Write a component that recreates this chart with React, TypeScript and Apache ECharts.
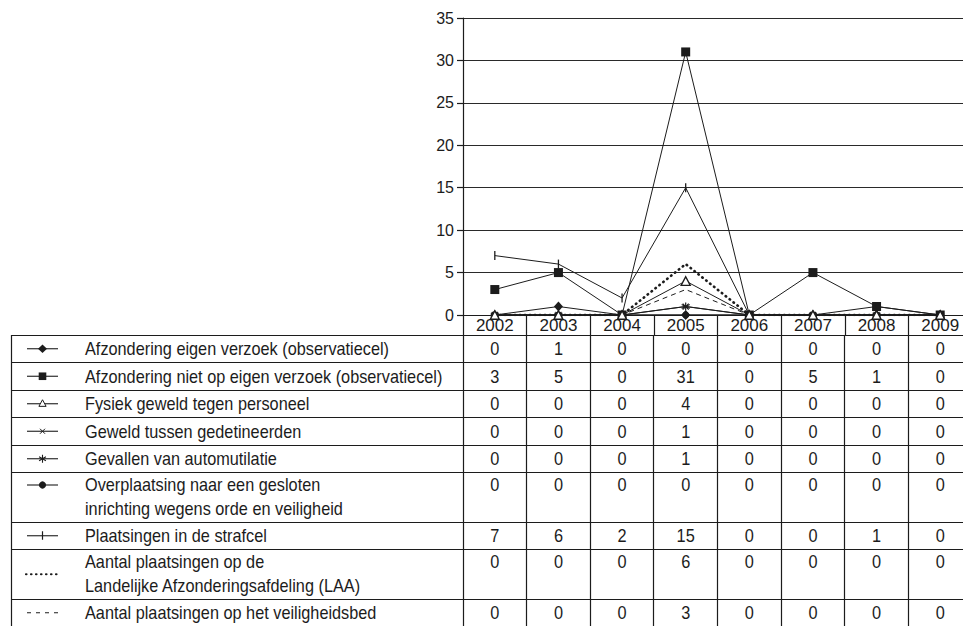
import React, { useEffect, useRef } from "react";
import * as echarts from "echarts";

// ---------- data ----------
const years = ["2002", "2003", "2004", "2005", "2006", "2007", "2008", "2009"];

const afzonderingEigen = [0, 1, 0, 0, 0, 0, 0, 0];
const afzonderingNiet = [3, 5, 0, 31, 0, 5, 1, 0];
const fysiekGeweld = [0, 0, 0, 4, 0, 0, 0, 0];
const geweldGedetineerden = [0, 0, 0, 1, 0, 0, 0, 0];
const automutilatie = [0, 0, 0, 1, 0, 0, 0, 0];
const overplaatsing = [0, 0, 0, 0, 0, 0, 0, 0];
const strafcel = [7, 6, 2, 15, 0, 0, 1, 0];
const laa = [0, 0, 0, 6, 0, 0, 0, 0];
const veiligheidsbed = [0, 0, 0, 3, 0, 0, 0, 0];

const seriesLabels: string[][] = [
  ["Afzondering eigen verzoek (observatiecel)"],
  ["Afzondering niet op eigen verzoek (observatiecel)"],
  ["Fysiek geweld tegen personeel"],
  ["Geweld tussen gedetineerden"],
  ["Gevallen van automutilatie"],
  ["Overplaatsing naar een gesloten", "inrichting wegens orde en veiligheid"],
  ["Plaatsingen in de strafcel"],
  ["Aantal plaatsingen op de", "Landelijke Afzonderingsafdeling (LAA)"],
  ["Aantal plaatsingen op het veiligheidsbed"],
];

const seriesValues = [
  afzonderingEigen,
  afzonderingNiet,
  fysiekGeweld,
  geweldGedetineerden,
  automutilatie,
  overplaatsing,
  strafcel,
  laa,
  veiligheidsbed,
];

type Mark =
  | "diamond"
  | "square"
  | "triangle"
  | "cross"
  | "asterisk"
  | "circle"
  | "tick"
  | "dotted"
  | "dashed";

const seriesMarks: Mark[] = [
  "diamond",
  "square",
  "triangle",
  "cross",
  "asterisk",
  "circle",
  "tick",
  "dotted",
  "dashed",
];

const Y_MAX = 35;
const Y_INTERVAL = 5;

// ---------- styles / layout ----------
const INK = "#1c1c1c";
const FONT = "'Liberation Sans', Arial, sans-serif";
const CROSS = "path://M0,0L10,10M10,0L0,10";
const ASTERISK = "path://M5,0L5,10M0.67,2.5L9.33,7.5M9.33,2.5L0.67,7.5";
const TICK = "path://M0,0h1v10h-1z";

const TABLE_LEFT = 11;
const TABLE_TOP = 335;
const ROW_H1 = 27.5;
const ROW_H2 = 49.5;
const LABEL_X = 85;
const SYM_X0 = 27;
const SYM_X1 = 58;
const SYM_CX = 42.5;
const TEXT_SIZE = 19;
const LABEL_SCALE = 0.857;
const NUM_SCALE = 0.86;
const RULE_W = 1.2;
const symbolAtMiddle = [false, false, false, false, false, false, false, true, false];

function seriesStyle(m: Mark): any {
  switch (m) {
    case "diamond":
      return { symbol: "diamond", symbolSize: [9, 10], itemStyle: { color: INK, borderWidth: 0 } };
    case "square":
      return { symbol: "rect", symbolSize: 9, itemStyle: { color: INK, borderWidth: 0 } };
    case "triangle":
      return {
        symbol: "triangle",
        symbolSize: [9, 8.5],
        z: 4,
        itemStyle: { color: "#fff", borderColor: INK, borderWidth: 1.4 },
      };
    case "cross":
      return { symbol: CROSS, symbolSize: 6, itemStyle: { color: INK, borderColor: INK, borderWidth: 1.1 } };
    case "asterisk":
      return { symbol: ASTERISK, symbolSize: 8, itemStyle: { color: INK, borderColor: INK, borderWidth: 1.2 } };
    case "circle":
      return { symbol: "circle", symbolSize: 7, itemStyle: { color: INK, borderWidth: 0 } };
    case "tick":
      return { symbol: TICK, symbolSize: [1.3, 9], itemStyle: { color: INK, borderWidth: 0 } };
    case "dotted":
      return {
        symbol: "none",
        showSymbol: false,
        lineStyle: { color: INK, type: [0.5, 4.5], width: 2.6, cap: "round" },
      };
    case "dashed":
      return { symbol: "none", showSymbol: false, lineStyle: { color: INK, type: [5, 4], width: 1 } };
  }
}

function legendSymbol(m: Mark, cy: number): any[] {
  const cx = SYM_CX;
  const out: any[] = [];
  if (m === "dotted") {
    out.push({
      type: "line",
      shape: { x1: 26, y1: cy, x2: 61, y2: cy },
      style: { stroke: INK, lineWidth: 2.2, lineDash: [0.5, 4.5], lineCap: "round" },
    });
    return out;
  }
  if (m === "dashed") {
    out.push({
      type: "line",
      shape: { x1: 27, y1: cy, x2: 59, y2: cy },
      style: { stroke: INK, lineWidth: 1, lineDash: [4, 5] },
    });
    return out;
  }
  out.push({
    type: "line",
    shape: { x1: SYM_X0, y1: cy, x2: SYM_X1, y2: cy },
    style: { stroke: INK, lineWidth: 1.1 },
  });
  switch (m) {
    case "diamond":
      out.push({
        type: "polygon",
        shape: { points: [[cx - 4.5, cy], [cx, cy - 4.2], [cx + 4.5, cy], [cx, cy + 4.2]] },
        style: { fill: INK },
      });
      break;
    case "square":
      out.push({ type: "rect", shape: { x: cx - 3.8, y: cy - 3.8, width: 7.6, height: 7.6 }, style: { fill: INK } });
      break;
    case "triangle":
      out.push({
        type: "polygon",
        shape: { points: [[cx, cy - 4], [cx + 3.6, cy + 2.6], [cx - 3.6, cy + 2.6]] },
        style: { fill: "#fff", stroke: INK, lineWidth: 1 },
      });
      break;
    case "cross":
      out.push({ type: "line", shape: { x1: cx - 2.5, y1: cy - 2.5, x2: cx + 2.5, y2: cy + 2.5 }, style: { stroke: INK, lineWidth: 1 } });
      out.push({ type: "line", shape: { x1: cx + 2.5, y1: cy - 2.5, x2: cx - 2.5, y2: cy + 2.5 }, style: { stroke: INK, lineWidth: 1 } });
      break;
    case "asterisk":
      out.push({ type: "line", shape: { x1: cx, y1: cy - 4, x2: cx, y2: cy + 4 }, style: { stroke: INK, lineWidth: 1.1 } });
      out.push({ type: "line", shape: { x1: cx - 3.4, y1: cy - 2, x2: cx + 3.4, y2: cy + 2 }, style: { stroke: INK, lineWidth: 1.1 } });
      out.push({ type: "line", shape: { x1: cx + 3.4, y1: cy - 2, x2: cx - 3.4, y2: cy + 2 }, style: { stroke: INK, lineWidth: 1.1 } });
      break;
    case "circle":
      out.push({ type: "circle", shape: { cx, cy, r: 3.6 }, style: { fill: INK } });
      break;
    case "tick":
      out.push({ type: "line", shape: { x1: cx, y1: cy - 4.5, x2: cx, y2: cy + 4 }, style: { stroke: INK, lineWidth: 1.2 } });
      break;
  }
  return out;
}

const crisp = (v: number) => Math.round(v - 0.5) + 0.5;

function textEl(text: string, x: number, y: number, align: string, scale: number): any {
  return {
    type: "text",
    x,
    y,
    scaleX: scale,
    silent: true,
    style: {
      text,
      fill: INK,
      fontSize: TEXT_SIZE,
      fontFamily: FONT,
      textAlign: align,
      textVerticalAlign: "middle",
      align,
      verticalAlign: "middle",
    },
  };
}

export default function App() {
  const ref = useRef<HTMLDivElement>(null);

  useEffect(() => {
    if (!ref.current) return;
    const chart = echarts.init(ref.current, null, { renderer: "svg" });

    const option: any = {
      animation: false,
      backgroundColor: "#fff",
      grid: { left: 463, right: 0, top: 18, bottom: 311, outerBoundsMode: "none", containLabel: false },
      xAxis: {
        type: "category",
        data: years,
        boundaryGap: true,
        axisLine: { show: true, lineStyle: { color: INK, width: RULE_W } },
        axisTick: {
          show: true,
          inside: false,
          length: 20,
          interval: 0,
          alignWithLabel: false,
          lineStyle: { color: INK, width: RULE_W },
        },
        axisLabel: { interval: 0, fontSize: 17, fontFamily: FONT, color: INK, margin: 2 },
        splitLine: { show: false },
      },
      yAxis: {
        type: "value",
        min: 0,
        max: Y_MAX,
        interval: Y_INTERVAL,
        axisLine: { show: true, lineStyle: { color: INK, width: RULE_W } },
        axisTick: { show: true, inside: false, length: 6, lineStyle: { color: INK, width: RULE_W } },
        axisLabel: { fontSize: 16, fontFamily: FONT, color: INK, margin: 9 },
        splitLine: { show: true, lineStyle: { color: "#2a2a2a", width: RULE_W } },
      },
      series: seriesValues.map((vals, i) => {
        const st = seriesStyle(seriesMarks[i]);
        return {
          type: "line",
          name: seriesLabels[i].join(" "),
          data: vals,
          showAllSymbol: true,
          showSymbol: true,
          lineStyle: { color: INK, width: 1 },
          ...st,
        };
      }),
    };
    chart.setOption(option);

    // ----- data table below the chart, columns derived from the x axis -----
    const centers = years.map((_, i) => chart.convertToPixel({ xAxisIndex: 0 }, i) as number);
    const half = (centers[1] - centers[0]) / 2;
    const bounds: number[] = [TABLE_TOP];
    seriesLabels.forEach((lines) => {
      bounds.push(bounds[bounds.length - 1] + (lines.length > 1 ? ROW_H2 : ROW_H1));
    });
    const bottom = bounds[bounds.length - 1];
    const lineStyle = { stroke: INK, lineWidth: RULE_W };
    const g: any[] = [];

    // horizontal rules (bottom rule lies below the picture)
    bounds.slice(0, -1).forEach((b) => {
      const y = crisp(b);
      g.push({ type: "line", silent: true, shape: { x1: TABLE_LEFT, y1: y, x2: 980, y2: y }, style: lineStyle });
    });
    // vertical rules
    g.push({
      type: "line",
      silent: true,
      shape: { x1: crisp(TABLE_LEFT), y1: TABLE_TOP, x2: crisp(TABLE_LEFT), y2: bottom },
      style: lineStyle,
    });
    const colEdges = [centers[0] - half, ...centers.map((c) => c + half)];
    colEdges.forEach((x) => {
      const xx = crisp(x);
      g.push({ type: "line", silent: true, shape: { x1: xx, y1: TABLE_TOP, x2: xx, y2: bottom }, style: lineStyle });
    });

    // cells
    seriesLabels.forEach((lines, r) => {
      const top = bounds[r];
      const h = bounds[r + 1] - top;
      const double = lines.length > 1;
      const firstY = double ? top + 12.5 : top + h / 2;
      lines.forEach((ln, k) => {
        g.push(textEl(ln, LABEL_X, firstY + k * 23.5, "left", LABEL_SCALE));
      });
      const symY = double ? (symbolAtMiddle[r] ? top + h / 2 : firstY) : firstY;
      legendSymbol(seriesMarks[r], symY).forEach((el) => {
        el.silent = true;
        g.push(el);
      });
      seriesValues[r].forEach((v, c) => {
        g.push(textEl(String(v), centers[c], firstY, "center", NUM_SCALE));
      });
    });

    chart.setOption({ graphic: { elements: g } });

    return () => {
      chart.dispose();
    };
  }, []);

  return (
    <div
      style={{
        position: "absolute",
        left: 0,
        top: 0,
        width: 963,
        height: 626,
        overflow: "hidden",
        background: "#fff",
      }}
    >
      <div ref={ref} style={{ width: 972, height: 626 }} />
    </div>
  );
}
